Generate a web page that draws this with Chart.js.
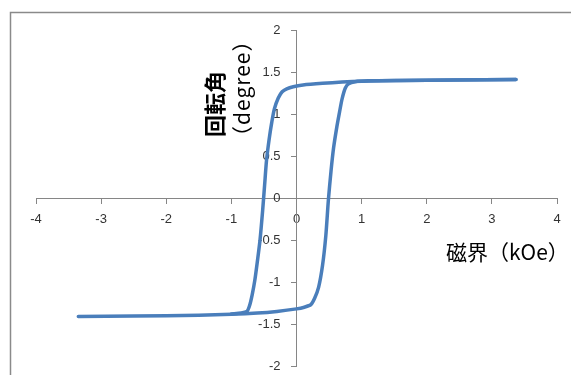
<!DOCTYPE html>
<html>
<head>
<meta charset="utf-8">
<script src="https://cdn.jsdelivr.net/npm/chart.js@4"></script>
<style>
  html, body { margin: 0; padding: 0; background: #fff; }
  #wrap { width: 571px; height: 375px; }
</style>
</head>
<body>
<div id="wrap"><canvas id="chart" width="571" height="375"></canvas></div>
<script>
// ascending sweep (lower branch, then switching up)
const fieldUp = [-3.35, -2.5, -1.5, -1.0, -0.6, -0.3, 0.0, 0.12, 0.22, 0.28, 0.34, 0.40, 0.45, 0.49, 0.53, 0.57, 0.62, 0.66, 0.70, 0.75, 0.80, 0.90, 1.1, 1.6, 2.4, 3.37];
const rotUp = [-1.41, -1.405, -1.395, -1.385, -1.37, -1.35, -1.32, -1.30, -1.27, -1.19, -1.06, -0.8, -0.45, -0.02, 0.32, 0.6, 0.85, 1.02, 1.18, 1.31, 1.36, 1.385, 1.395, 1.40, 1.405, 1.41];
// descending sweep (upper branch, then switching down)
const fieldDown = [3.37, 2.4, 1.6, 1.0, 0.7, 0.4, 0.1, -0.05, -0.15, -0.22, -0.28, -0.34, -0.38, -0.42, -0.46, -0.49, -0.52, -0.56, -0.6, -0.64, -0.68, -0.72, -0.76, -0.85, -1.0];
const rotDown = [1.41, 1.405, 1.40, 1.39, 1.38, 1.365, 1.345, 1.325, 1.30, 1.265, 1.19, 1.06, 0.9, 0.7, 0.45, 0.15, -0.15, -0.5, -0.75, -0.98, -1.15, -1.28, -1.35, -1.37, -1.38];

const xTicks = [-4, -3, -2, -1, 0, 1, 2, 3, 4];
const yTicks = [-2, -1.5, -1, -0.5, 0, 0.5, 1, 1.5, 2];

const yTitle = '回転角';
const yUnit = '（degree）';
const xTitle = '磁界（kOe）';

const toPoints = (xs, ys) => xs.map((x, i) => ({ x: x, y: ys[i] }));

const lineColor = '#4a7ebb';
const axisColor = '#868686';
const tickFont = '13px "Liberation Sans"';

// frame, y tick labels (axis crosses at origin) and axis titles
const decor = {
    id: 'decor',
    beforeDraw(chart) {
        const ctx = chart.ctx;
        ctx.save();
        ctx.fillStyle = '#fff';
        ctx.fillRect(0, 0, chart.width, chart.height);
        ctx.strokeStyle = '#8a8a8a';
        ctx.lineWidth = 1.5;
        ctx.strokeRect(10.5, 12.5, 700, 500);
        ctx.restore();
    },
    beforeDatasetsDraw(chart) {
        const ctx = chart.ctx;
        const ys = chart.scales.y;
        const x0 = chart.scales.x.getPixelForValue(0);
        ctx.save();
        ctx.font = tickFont;
        ctx.fillStyle = '#333';
        ctx.textAlign = 'right';
        ctx.textBaseline = 'middle';
        yTicks.forEach(v => ctx.fillText(String(v), x0 - 16, ys.getPixelForValue(v)));
        ctx.restore();
    },
    afterDraw(chart) {
        const ctx = chart.ctx;
        ctx.save();
        ctx.fillStyle = '#000';
        ctx.textBaseline = 'middle';
        ctx.textAlign = 'left';

        ctx.save();
        ctx.translate(215, 137);
        ctx.rotate(-Math.PI / 2);
        ctx.font = 'bold 22px "Noto Sans CJK JP"';
        ctx.fillText(yTitle, 0, 0);
        ctx.restore();

        ctx.save();
        ctx.translate(242, 147);
        ctx.rotate(-Math.PI / 2);
        ctx.font = '21px "Noto Sans CJK JP"';
        ctx.letterSpacing = '1px';
        ctx.fillText(yUnit, 0, 0);
        ctx.restore();

        ctx.font = '21px "Noto Sans CJK JP"';
        ctx.fillText(xTitle, 446, 252);
        ctx.restore();
    }
};

new Chart(document.getElementById('chart'), {
    type: 'scatter',
    data: {
        datasets: [
            { data: toPoints(fieldUp, rotUp) },
            { data: toPoints(fieldDown, rotDown) }
        ]
    },
    options: {
        responsive: false,
        animation: false,
        devicePixelRatio: 1,
        showLine: true,
        layout: { padding: { left: 36, right: 14, top: 30, bottom: 9 } },
        elements: {
            point: { radius: 0, hoverRadius: 0 },
            line: { borderColor: lineColor, borderWidth: 3.5, tension: 0.25, fill: false, borderCapStyle: 'round', borderJoinStyle: 'round' }
        },
        plugins: { legend: { display: false }, tooltip: { enabled: false } },
        scales: {
            x: {
                type: 'linear',
                position: { y: 0 },
                min: -4, max: 4,
                afterBuildTicks: axis => { axis.ticks = xTicks.map(v => ({ value: v })); },
                afterFit: axis => { axis.height = 0; },
                grid: { drawOnChartArea: false, drawTicks: true, tickLength: 5, color: axisColor },
                border: { color: axisColor, width: 1 },
                ticks: { padding: 9, color: '#333', font: { family: 'Liberation Sans', size: 13 }, callback: v => String(v) }
            },
            y: {
                type: 'linear',
                position: { x: 0 },
                min: -2, max: 2,
                afterBuildTicks: axis => { axis.ticks = yTicks.map(v => ({ value: v })); },
                afterFit: axis => { axis.width = 0; },
                grid: { drawOnChartArea: false, drawTicks: true, tickLength: 5, color: axisColor },
                border: { color: axisColor, width: 1 },
                ticks: { display: false }
            }
        }
    },
    plugins: [decor]
});
</script>
</body>
</html>
